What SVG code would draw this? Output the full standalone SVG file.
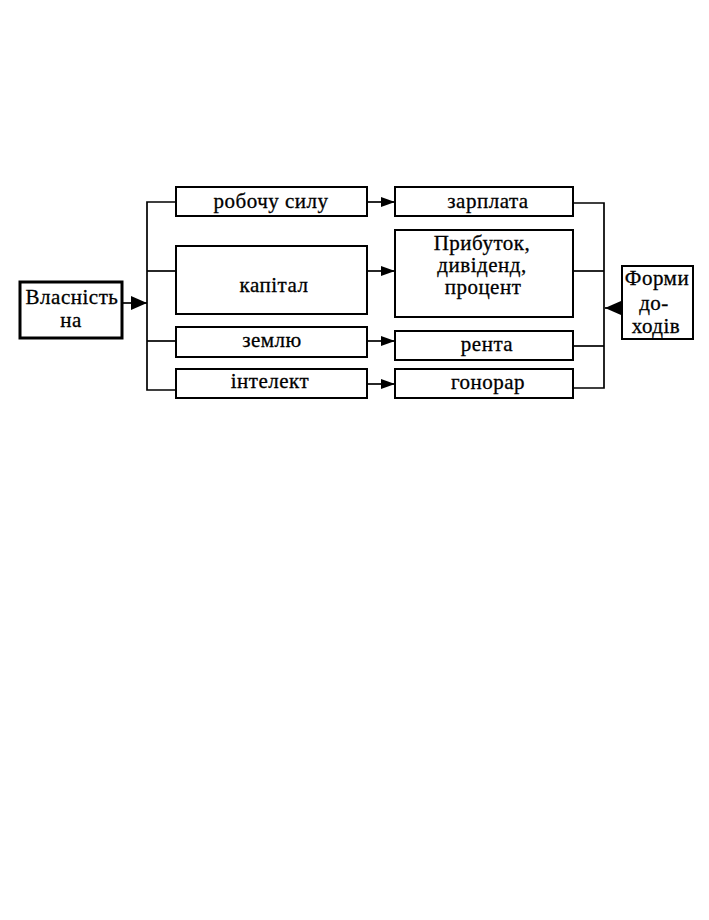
<svg xmlns="http://www.w3.org/2000/svg" width="709" height="920" viewBox="0 0 709 920">
<defs>
<style>
.box{fill:#fff;stroke:#000;stroke-width:2}
.t{font-family:"Liberation Serif","DejaVu Serif",serif;font-size:21px;fill:#000;stroke:#000;stroke-width:0.3;text-anchor:middle;letter-spacing:0.5px}
.ln{fill:none;stroke:#000;stroke-width:1.7}
</style>
<marker id="ah" viewBox="0 0 14 10" refX="14" refY="5" markerWidth="14" markerHeight="10" markerUnits="userSpaceOnUse" orient="auto">
<path d="M0,0 L14,5 L0,10 Z" fill="#000"/>
</marker>
<marker id="ahb" viewBox="0 0 16 14" refX="16" refY="7" markerWidth="16" markerHeight="14" markerUnits="userSpaceOnUse" orient="auto">
<path d="M0,0 L16,7 L0,14 Z" fill="#000"/>
</marker>
</defs>
<rect width="709" height="920" fill="#fff"/>

<g id="connectors">
<line class="ln" x1="122" y1="303" x2="147" y2="303" marker-end="url(#ahb)"/>
<polyline class="ln" points="176,202 147,202 147,390 177,390"/>
<line class="ln" x1="147" y1="271" x2="177" y2="271"/>
<line class="ln" x1="147" y1="341" x2="177" y2="341"/>
<line class="ln" x1="367" y1="202" x2="395" y2="202" marker-end="url(#ah)"/>
<line class="ln" x1="367" y1="271" x2="395" y2="271" marker-end="url(#ah)"/>
<line class="ln" x1="367" y1="341" x2="395" y2="341" marker-end="url(#ah)"/>
<line class="ln" x1="367" y1="384" x2="395" y2="384" marker-end="url(#ah)"/>
<polyline class="ln" points="573,203 604,203 604,388 573,388"/>
<line class="ln" x1="573" y1="271" x2="604" y2="271"/>
<line class="ln" x1="573" y1="346" x2="604" y2="346"/>
<line class="ln" x1="622" y1="308" x2="605" y2="308" marker-end="url(#ahb)"/>
</g>

<g id="vlasnist">
<rect class="box" x="20" y="282" width="102" height="56" style="stroke-width:3"/>
<text class="t" x="72" y="304">Власність</text>
<text class="t" x="71" y="327">на</text>
</g>

<g id="robochu">
<rect class="box" x="176" y="187" width="191" height="29"/>
<text class="t" x="271" y="208">робочу силу</text>
</g>
<g id="kapital">
<rect class="box" x="176" y="246" width="191" height="68"/>
<text class="t" x="274" y="292">капітал</text>
</g>
<g id="zemlyu">
<rect class="box" x="176" y="327" width="191" height="30"/>
<text class="t" x="272" y="347">землю</text>
</g>
<g id="intelekt">
<rect class="box" x="176" y="369" width="191" height="29"/>
<text class="t" x="270" y="388">інтелект</text>
</g>

<g id="zarplata">
<rect class="box" x="395" y="187" width="178" height="29"/>
<text class="t" x="488" y="208">зарплата</text>
</g>
<g id="prybutok">
<rect class="box" x="395" y="230" width="178" height="87"/>
<text class="t" x="482" y="250">Прибуток,</text>
<text class="t" x="482" y="272">дивіденд,</text>
<text class="t" x="483" y="294">процент</text>
</g>
<g id="renta">
<rect class="box" x="395" y="331" width="178" height="29"/>
<text class="t" x="487" y="351">рента</text>
</g>
<g id="gonorar">
<rect class="box" x="395" y="369" width="178" height="29"/>
<text class="t" x="488" y="389">гонорар</text>
</g>

<g id="formy">
<rect class="box" x="622" y="266" width="71" height="73"/>
<text class="t" x="657" y="285">Форми</text>
<text class="t" x="654" y="310">до-</text>
<text class="t" x="656" y="333">ходів</text>
</g>
</svg>
